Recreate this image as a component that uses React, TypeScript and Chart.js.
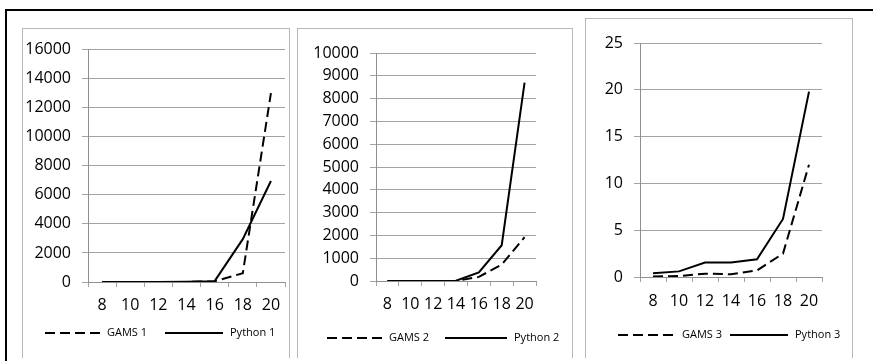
import React, { useEffect, useRef } from 'react';
import { Chart, registerables } from 'chart.js';

Chart.register(...registerables);

// ---- data ----
const categories = ['8', '10', '12', '14', '16', '18', '20'];

const names1 = ['GAMS 1', 'Python 1'];
const gams1 = [0, 0, 0, 0, 50, 600, 13000];
const python1 = [0, 0, 0, 10, 60, 2950, 6950];

const names2 = ['GAMS 2', 'Python 2'];
const gams2 = [0, 0, 0, 0, 180, 720, 1920];
const python2 = [0, 0, 0, 10, 380, 1570, 8700];

const names3 = ['GAMS 3', 'Python 3'];
const gams3 = [0.05, 0.1, 0.35, 0.3, 0.7, 2.5, 12];
const python3 = [0.4, 0.6, 1.55, 1.55, 1.9, 6.2, 19.8];

const yMax1 = 16000;
const yStep1 = 2000;
const yMax2 = 10000;
const yStep2 = 1000;
const yMax3 = 25;
const yStep3 = 5;

// ---- style ----
const FONT = "'Open Sans', sans-serif";
const GRID = '#a3a3a3';
const AXIS = '#8f8f8f';
const BOX = '#b8b8b8';

type LegendPos = { y: number; items: { x: number; w: number }[] };

type PanelCfg = {
  names: string[];
  gams: number[];
  python: number[];
  yMax: number;
  yStep: number;
  box: { left: number; top: number; width: number };
  canvas: { left: number; top: number; width: number; height: number };
  padTop: number;
  padRight: number;
  padBottom: number;
  yWidth: number;
  xHeight: number;
  xTickPad: number;
  legend: LegendPos;
};

const panels: PanelCfg[] = [
  {
    names: names1, gams: gams1, python: python1, yMax: yMax1, yStep: yStep1,
    box: { left: 22, top: 28, width: 268 },
    canvas: { left: 23, top: 29, width: 265, height: 332 },
    padTop: 18, padRight: 3, padBottom: 49, yWidth: 65, xHeight: 30, xTickPad: 9,
    legend: { y: 304, items: [{ x: 22, w: 55 }, { x: 142, w: 58 }] },
  },
  {
    names: names2, gams: gams2, python: python2, yMax: yMax2, yStep: yStep2,
    box: { left: 297, top: 28, width: 276 },
    canvas: { left: 298, top: 29, width: 273, height: 332 },
    padTop: 24, padRight: 35, padBottom: 50, yWidth: 78, xHeight: 30, xTickPad: 9,
    legend: { y: 309, items: [{ x: 29, w: 55 }, { x: 147, w: 62 }] },
  },
  {
    names: names3, gams: gams3, python: python3, yMax: yMax3, yStep: yStep3,
    box: { left: 585, top: 18, width: 268 },
    canvas: { left: 586, top: 19, width: 265, height: 342 },
    padTop: 24, padRight: 29, padBottom: 54, yWidth: 54, xHeight: 30, xTickPad: 10,
    legend: { y: 316, items: [{ x: 32, w: 57 }, { x: 144, w: 58 }] },
  },
];

// legend drawn from the datasets themselves (line sample + label)
const lineLegend = {
  id: 'lineLegend',
  afterDraw(chart: any, _args: any, opts: any) {
    const pos: LegendPos = opts.pos;
    if (!pos) return;
    const ctx = chart.ctx;
    chart.data.datasets.forEach((ds: any, i: number) => {
      const it = pos.items[i];
      if (!it) return;
      ctx.save();
      ctx.strokeStyle = ds.borderColor;
      ctx.lineWidth = ds.borderWidth;
      ctx.lineCap = 'butt';
      ctx.setLineDash(ds.borderDash || []);
      ctx.beginPath();
      ctx.moveTo(it.x, pos.y);
      ctx.lineTo(it.x + it.w, pos.y);
      ctx.stroke();
      ctx.setLineDash([]);
      ctx.fillStyle = '#000';
      ctx.font = `11px ${FONT}`;
      ctx.textBaseline = 'middle';
      ctx.textAlign = 'left';
      ctx.fillText(ds.label, it.x + it.w + 7, pos.y);
      ctx.restore();
    });
  },
};

function Panel({ p }: { p: PanelCfg }) {
  const ref = useRef<HTMLCanvasElement>(null);
  useEffect(() => {
    const chart = new Chart(ref.current as HTMLCanvasElement, {
      type: 'line',
      data: {
        labels: categories,
        datasets: [
          {
            label: p.names[0], data: p.gams, borderColor: '#000', backgroundColor: '#000',
            borderWidth: 2, borderDash: [10, 5], pointRadius: 0, tension: 0, fill: false,
          },
          {
            label: p.names[1], data: p.python, borderColor: '#000', backgroundColor: '#000',
            borderWidth: 2, pointRadius: 0, tension: 0, fill: false,
          },
        ],
      },
      plugins: [lineLegend],
      options: {
        responsive: false,
        animation: false,
        devicePixelRatio: 1,
        layout: { padding: { top: p.padTop, left: 0, right: p.padRight, bottom: p.padBottom } },
        plugins: {
          tooltip: { enabled: false },
          legend: { display: false },
          lineLegend: { pos: p.legend },
        },
        scales: {
          x: {
            offset: true,
            grid: { offset: true, drawOnChartArea: false, drawTicks: true, tickLength: 5, color: GRID },
            border: { display: true, color: AXIS },
            ticks: {
              autoSkip: false, maxRotation: 0, minRotation: 0, padding: p.xTickPad,
              color: '#000', font: { family: FONT, size: 16 },
            },
            afterFit: (s: any) => {
              s.height = p.xHeight;
              s.paddingLeft = 0;
              s.paddingRight = 0;
            },
          },
          y: {
            min: 0,
            max: p.yMax,
            ticks: {
              stepSize: p.yStep, padding: 11, color: '#000', font: { family: FONT, size: 16 },
              callback: (v: any) => String(v),
            },
            grid: { color: GRID, drawTicks: true, tickLength: 6 },
            border: { display: true, color: AXIS },
            afterFit: (s: any) => {
              s.width = p.yWidth;
            },
          },
        },
      } as any,
    });
    return () => chart.destroy();
  }, []);
  return (
    <canvas
      ref={ref}
      width={p.canvas.width}
      height={p.canvas.height}
      style={{
        position: 'absolute',
        left: p.canvas.left,
        top: p.canvas.top,
        width: p.canvas.width,
        height: p.canvas.height,
      }}
    />
  );
}

export default function App() {
  return (
    <div
      style={{
        position: 'absolute', left: 0, top: 0, width: 873, height: 361,
        overflow: 'hidden', background: '#fff',
      }}
    >
      <div
        style={{
          position: 'absolute', left: 5, top: 9, width: 1000, height: 500,
          border: '2px solid #000', boxSizing: 'border-box',
        }}
      />
      {panels.map((p, i) => (
        <div
          key={'b' + i}
          style={{
            position: 'absolute', left: p.box.left, top: p.box.top, width: p.box.width,
            height: 358 - p.box.top, borderTop: `1px solid ${BOX}`, borderLeft: `1px solid ${BOX}`,
            borderRight: `1px solid ${BOX}`, boxSizing: 'border-box',
          }}
        />
      ))}
      {panels.map((p, i) => (
        <Panel key={'c' + i} p={p} />
      ))}
    </div>
  );
}
